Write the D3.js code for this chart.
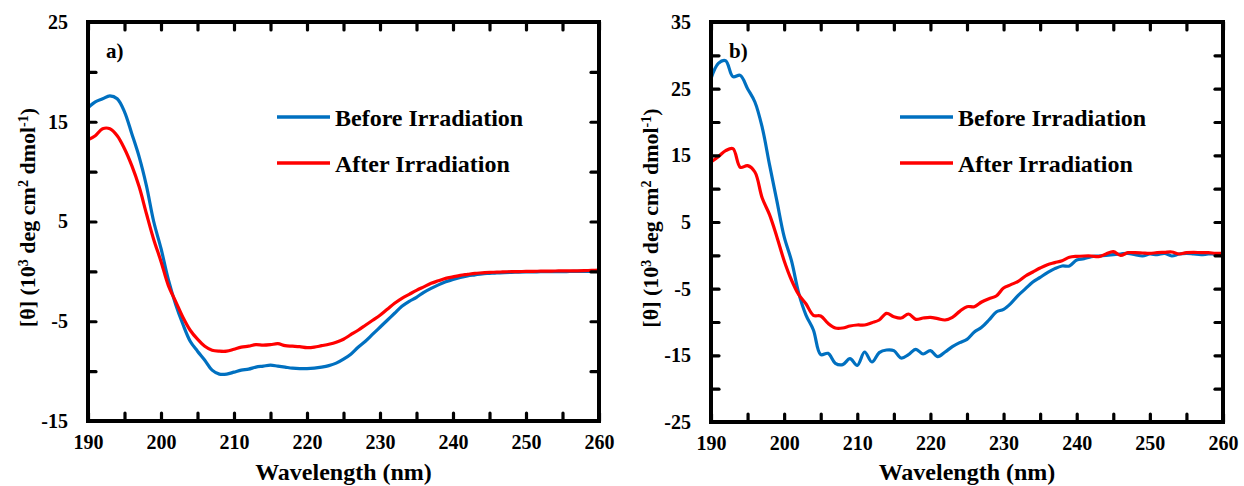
<!DOCTYPE html>
<meta charset="utf-8">
<body style="margin:0;background:#fff">
<script src="https://d3js.org/d3.v7.min.js"></script>
<script>

var width = 1244,
    height = 486;

var serif = "'Liberation Serif'";

// wavelengths, 1 nm steps
var wavelength = d3.range(190, 261);

// panel a)
var beforeA = [16.4, 17.0, 17.3, 17.6, 17.3, 16.0, 13.8, 11.5, 8.6, 5.0,
  2.3, -0.8, -3.3, -5.3, -7.0, -8.0, -8.9, -9.9, -10.3, -10.3,
  -10.1, -9.9, -9.8, -9.6, -9.5, -9.4, -9.5, -9.6, -9.7, -9.75,
  -9.75, -9.7, -9.6, -9.45, -9.2, -8.8, -8.3, -7.6, -7.0, -6.3,
  -5.6, -4.9, -4.2, -3.5, -3.0, -2.6, -2.1, -1.7, -1.35, -1.05,
  -0.8, -0.6, -0.45, -0.35, -0.25, -0.2, -0.15, -0.12, -0.1, -0.08,
  -0.06, -0.05, -0.04, -0.03, -0.02, -0.02, -0.01, 0, 0, 0, 0];
var afterA = [13.2, 13.6, 14.3, 14.3, 13.6, 12.3, 10.6, 8.5, 5.8, 3.2,
  1.0, -1.4, -3.0, -4.6, -5.9, -6.8, -7.5, -7.9, -8.0, -8.0,
  -7.8, -7.6, -7.5, -7.35, -7.4, -7.35, -7.25, -7.45, -7.5, -7.55,
  -7.65, -7.6, -7.45, -7.3, -7.1, -6.8, -6.35, -5.9, -5.4, -4.9,
  -4.4, -3.8, -3.2, -2.7, -2.3, -1.9, -1.55, -1.2, -0.95, -0.7,
  -0.55, -0.4, -0.3, -0.2, -0.15, -0.1, -0.08, -0.05, -0.03, -0.02,
  0, 0, 0.02, 0.03, 0.04, 0.05, 0.05, 0.06, 0.08, 0.1, 0.12];

// panel b)
var beforeB = [26.5, 28.8, 29.2, 26.8, 27.0, 25.0, 23.0, 19.2, 13.6, 8.2,
  2.8, -0.8, -5.7, -9.0, -11.2, -14.9, -14.7, -16.2, -16.4, -15.5,
  -16.5, -14.5, -16.0, -14.6, -14.2, -14.3, -15.4, -14.9, -14.1, -14.8,
  -14.3, -15.2, -14.5, -13.7, -13.1, -12.6, -11.5, -10.8, -9.7, -8.5,
  -8.1, -7.2, -6.0, -5.0, -4.0, -3.3, -2.6, -2.0, -1.6, -1.6,
  -0.7, -0.5, -0.2, -0.1, 0.0, 0.1, 0.2, 0.3, 0.1, -0.1,
  0.2, 0.1, 0.3, -0.1, 0.2, 0.3, 0.2, 0.1, 0.2, 0.2, 0.3];
var afterB = [14.0, 14.8, 15.7, 16.0, 13.2, 13.45, 12.5, 8.6, 6.1, 2.8,
  -0.8, -3.7, -5.9, -7.3, -9.0, -9.1, -10.2, -10.9, -10.9, -10.6,
  -10.45, -10.45, -10.1, -9.7, -8.7, -9.2, -9.4, -8.8, -9.6, -9.4,
  -9.3, -9.5, -9.7, -9.3, -8.4, -7.7, -7.7, -7.0, -6.5, -6.1,
  -4.9, -4.4, -3.9, -3.1, -2.5, -1.9, -1.4, -1.1, -0.8, -0.3,
  -0.15, -0.1, -0.1, -0.2, 0.2, 0.55, 0.0, 0.4, 0.4, 0.35,
  0.3, 0.4, 0.45, 0.5, 0.2, 0.4, 0.45, 0.4, 0.4, 0.3, 0.3];

var seriesNames = ["Before Irradiation", "After Irradiation"];
var seriesColors = ["#0070C0", "#FF0000"];

var svg = d3.select("body").append("svg")
    .attr("width", width)
    .attr("height", height);

drawPanel({ left: 88, right: 599, top: 22, bottom: 421, ymin: -15, ymax: 25,
  label: "a)", series: [beforeA, afterA], titleX: 27 });
drawPanel({ left: 711, right: 1223, top: 22, bottom: 422, ymin: -25, ymax: 35,
  label: "b)", series: [beforeB, afterB], titleX: 650 });

// every text: bold Times-like face
svg.selectAll("text")
  .style("font-family", serif)
  .style("font-weight", "bold")
  .attr("fill", "#000");

function styleAxis(sel) {
  sel.attr("font-family", null).attr("font-size", null);
  sel.select(".domain").remove();
  sel.selectAll(".tick line")
    .attr("stroke", "#000")
    .attr("stroke-width", 3.2)
    .attr("stroke-linecap", "round");
  sel.selectAll(".tick text")
    .style("font-size", "20px");
}

function drawPanel(p) {
  var x = d3.scaleLinear().domain([190, 260]).range([p.left, p.right]);
  var y = d3.scaleLinear().domain([p.ymin, p.ymax]).range([p.bottom, p.top]);

  var g = svg.append("g");

  var xt = d3.range(190, 261, 5);
  var yt = d3.range(p.ymin, p.ymax + 1, 5);

  var line = d3.line()
    .x(function(d, i) { return x(wavelength[i]); })
    .y(function(d) { return y(d); })
    .curve(d3.curveCatmullRom);

  p.series.forEach(function(s, i) {
    g.append("path")
      .attr("fill", "none")
      .attr("stroke", seriesColors[i])
      .attr("stroke-width", 3.2)
      .attr("stroke-linejoin", "round")
      .attr("d", line(s));
  });

  // bottom axis, labels every 10
  g.append("g")
    .attr("transform", "translate(0," + p.bottom + ")")
    .call(d3.axisBottom(x).tickValues(xt).tickSize(-8).tickPadding(14)
      .tickFormat(function(d) { return d % 10 === 0 ? d : ""; }))
    .call(styleAxis);
  // top axis, ticks only
  g.append("g")
    .attr("transform", "translate(0," + p.top + ")")
    .call(d3.axisTop(x).tickValues(xt).tickSize(-8).tickFormat(""))
    .call(styleAxis);
  // left axis, labels every 10 starting at the min
  g.append("g")
    .attr("transform", "translate(" + p.left + ",0)")
    .call(d3.axisLeft(y).tickValues(yt).tickSize(-8).tickPadding(20)
      .tickFormat(function(d) { return (d - p.ymin) % 10 === 0 ? d : ""; }))
    .call(styleAxis);
  // right axis, ticks only
  g.append("g")
    .attr("transform", "translate(" + p.right + ",0)")
    .call(d3.axisRight(y).tickValues(yt).tickSize(-8).tickFormat(""))
    .call(styleAxis);

  g.append("rect")
    .attr("fill", "none")
    .attr("stroke", "#000")
    .attr("stroke-width", 4)
    .attr("x", p.left)
    .attr("y", p.top)
    .attr("width", p.right - p.left)
    .attr("height", p.bottom - p.top);

  // panel label
  g.append("text")
    .attr("x", p.left + 18)
    .attr("y", 58)
    .style("font-size", "21px")
    .text(p.label);

  // legend
  seriesNames.forEach(function(name, i) {
    var ly = 117 + i * 46;
    g.append("line")
      .attr("x1", p.left + 189).attr("x2", p.left + 242)
      .attr("y1", ly).attr("y2", ly)
      .attr("stroke", seriesColors[i])
      .attr("stroke-width", 3.5);
    g.append("text")
      .attr("x", p.left + 247)
      .attr("y", ly + 8.5)
      .style("font-size", "24px")
      .text(name);
  });

  // x title
  g.append("text")
    .attr("x", (p.left + p.right) / 2)
    .attr("y", 480)
    .attr("text-anchor", "middle")
    .style("font-size", "24px")
    .text("Wavelength (nm)");

  // y title
  var yt2 = g.append("text")
    .attr("transform", "translate(" + (p.titleX + 8) + "," + ((p.top + p.bottom) / 2 - 4) + ") rotate(-90)")
    .attr("text-anchor", "middle")
    .style("font-size", "22px");
  yt2.append("tspan").text("[θ] (10");
  yt2.append("tspan").attr("baseline-shift", "super").style("font-size", "14px").text("3");
  yt2.append("tspan").text(" deg cm");
  yt2.append("tspan").attr("baseline-shift", "super").style("font-size", "14px").text("2");
  yt2.append("tspan").text(" dmol");
  yt2.append("tspan").attr("baseline-shift", "super").style("font-size", "14px").text("-1");
  yt2.append("tspan").text(")");
}

</script>
</body>
